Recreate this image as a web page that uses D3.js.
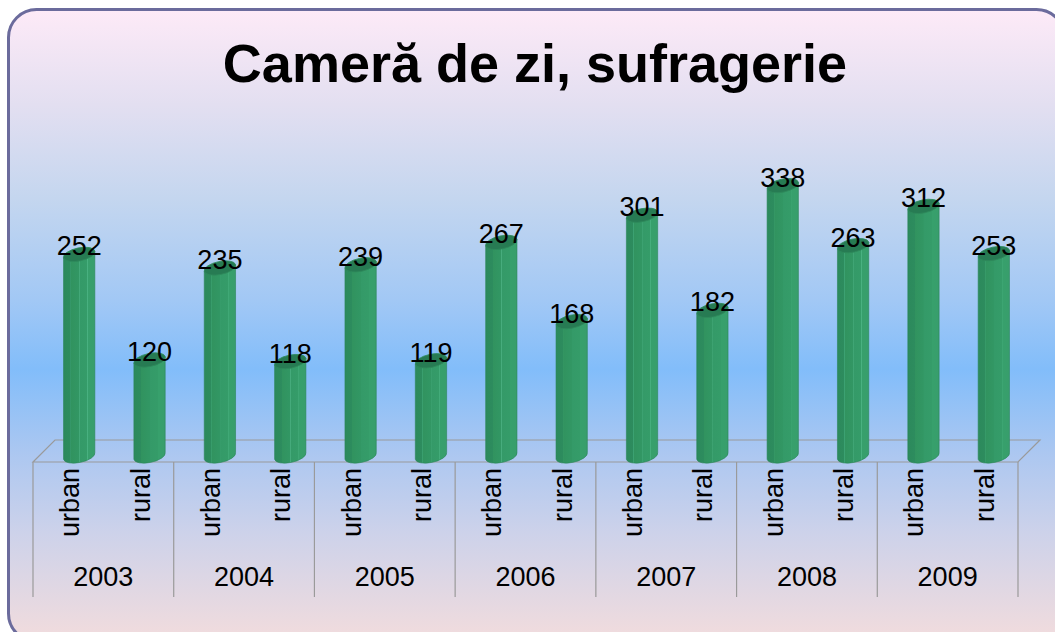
<!DOCTYPE html>
<html>
<head>
<meta charset="utf-8">
<script src="https://cdn.jsdelivr.net/npm/d3@7"></script>
<style>
  body { margin: 0; background: #fff; }
  text { font-family: "Liberation Sans", Arial, sans-serif; }
</style>
</head>
<body>
<div class="chart"></div>
<script>
// Data
let years = ["2003", "2004", "2005", "2006", "2007", "2008", "2009"];
let areas = ["urban", "rural"];
let urbanValues = [252, 235, 239, 267, 301, 338, 312];
let ruralValues = [120, 118, 119, 168, 182, 263, 253];
let chartTitle = "Cameră de zi, sufragerie";

let svgWidth = 1055;
let svgHeight = 632;

let svg = d3.select(".chart")
  .append("svg")
  .attr("width", svgWidth)
  .attr("height", svgHeight);

let defs = svg.append("defs");

// Background gradient
let bg = defs.append("linearGradient")
  .attr("id", "bgGrad")
  .attr("gradientUnits", "userSpaceOnUse")
  .attr("x1", 0).attr("y1", 10).attr("x2", 0).attr("y2", 640);
[[0, "#fdeaf7"], [0.15, "#e3dff1"], [0.3, "#c4d6ef"], [0.46, "#a2c8f5"], [0.57, "#82bdfa"],
 [0.7, "#abc7f1"], [0.83, "#cdd2ea"], [1, "#f2dcdd"]].forEach(function(s) {
  bg.append("stop").attr("offset", s[0]).attr("stop-color", s[1]);
});

// Cylinder body gradient
let barGrad = defs.append("linearGradient")
  .attr("id", "barGrad")
  .attr("x1", 0).attr("y1", 0).attr("x2", 1).attr("y2", 0);
[[0, "#2c8a5c"], [0.22, "#2d8c5e"], [0.225, "#3da374"], [0.24, "#31935f"], [0.5, "#329764"],
 [0.505, "#48ad7e"], [0.52, "#349a68"], [0.76, "#359c69"], [0.765, "#4bb383"], [0.78, "#37a06c"],
 [1, "#389e6c"]].forEach(function(s) {
  barGrad.append("stop").attr("offset", s[0]).attr("stop-color", s[1]);
});

// Frame
svg.append("rect")
  .attr("x", 8.5).attr("y", 9.5)
  .attr("width", 1056).attr("height", 632)
  .attr("rx", 28).attr("ry", 28)
  .attr("fill", "url(#bgGrad)")
  .attr("stroke", "#6b6b9c")
  .attr("stroke-width", 3);

// Title
svg.append("text")
  .attr("x", 535).attr("y", 82)
  .attr("text-anchor", "middle")
  .attr("font-size", 54)
  .attr("font-weight", "bold")
  .attr("fill", "#000")
  .text(chartTitle);

// Scales
let x0 = d3.scaleBand().domain(years).range([33, 1018]).paddingInner(0).paddingOuter(0);
let x1 = d3.scaleBand().domain(areas).range([0, x0.bandwidth()]);
let yScale = d3.scaleLinear().domain([0, 350]).range([456, 176]);

let depth = 22;
let floorY = 462;

// Floor
let floorPts = [[33, floorY], [33 + depth, floorY - depth], [1018 + depth, floorY - depth], [1018, floorY]];
svg.append("path")
  .attr("d", d3.line()(floorPts) + "Z")
  .attr("fill", "none")
  .attr("stroke", "#9a9a9a")
  .attr("stroke-width", 1.2);

// Bars
let data = [];
years.forEach(function(yr, i) {
  data.push({ year: yr, area: "urban", value: urbanValues[i] });
  data.push({ year: yr, area: "rural", value: ruralValues[i] });
});

let rx = 16, ry = 6.5, rot = -12;
let dxE = rx * Math.cos(rot * Math.PI / 180);
let dyE = rx * Math.sin(rot * Math.PI / 180);

let bars = svg.append("g").selectAll("g.bar")
  .data(data)
  .enter().append("g")
  .attr("class", "bar")
  .attr("transform", function(d) {
    let cx = x0(d.year) + x1(d.area) + x1.bandwidth() / 2 + depth / 2;
    return "translate(" + cx + ",0)";
  });

bars.append("path")
  .attr("d", function(d) {
    let ty = yScale(d.value), by = yScale(0);
    return "M" + (-dxE) + "," + (ty - dyE) +
      " L" + (-dxE) + "," + (by - dyE) +
      " A" + rx + "," + ry + " " + rot + " 0 0 " + dxE + "," + (by + dyE) +
      " L" + dxE + "," + (ty + dyE) + " Z";
  })
  .attr("fill", "url(#barGrad)")
  .attr("stroke", "#2a8458")
  .attr("stroke-width", 0.6);

bars.append("ellipse")
  .attr("cx", 0)
  .attr("cy", 0)
  .attr("rx", rx)
  .attr("ry", ry)
  .attr("transform", function(d) { return "translate(0," + yScale(d.value) + ") rotate(" + rot + ")"; })
  .attr("fill", "#277b53")
  .attr("stroke", "#2e8a5c")
  .attr("stroke-width", 0.8);

bars.append("text")
  .attr("x", 0)
  .attr("y", function(d) { return yScale(d.value) + 1; })
  .attr("text-anchor", "middle")
  .attr("font-size", 27)
  .attr("fill", "#000")
  .text(function(d) { return d.value; });

// Category axis: area labels
let axis = svg.append("g");
data.forEach(function(d) {
  let cx = x0(d.year) + x1(d.area) + x1.bandwidth() / 2;
  axis.append("text")
    .attr("transform", "translate(" + (cx + 11) + "," + 468 + ") rotate(-90)")
    .attr("text-anchor", "end")
    .attr("font-size", 27)
    .attr("fill", "#000")
    .text(d.area);
});

// Year labels
axis.selectAll("text.year")
  .data(years)
  .enter().append("text")
  .attr("class", "year")
  .attr("x", function(d) { return x0(d) + x0.bandwidth() / 2; })
  .attr("y", 586)
  .attr("text-anchor", "middle")
  .attr("font-size", 27)
  .attr("fill", "#000")
  .text(function(d) { return d; });

// Separators
let seps = years.map(function(d) { return x0(d); }).concat([x0.range()[1]]);
axis.selectAll("line.sep")
  .data(seps)
  .enter().append("line")
  .attr("class", "sep")
  .attr("x1", function(d) { return d; })
  .attr("x2", function(d) { return d; })
  .attr("y1", floorY)
  .attr("y2", 597)
  .attr("stroke", "#9a9a9a")
  .attr("stroke-width", 1.2);
</script>
</body>
</html>
